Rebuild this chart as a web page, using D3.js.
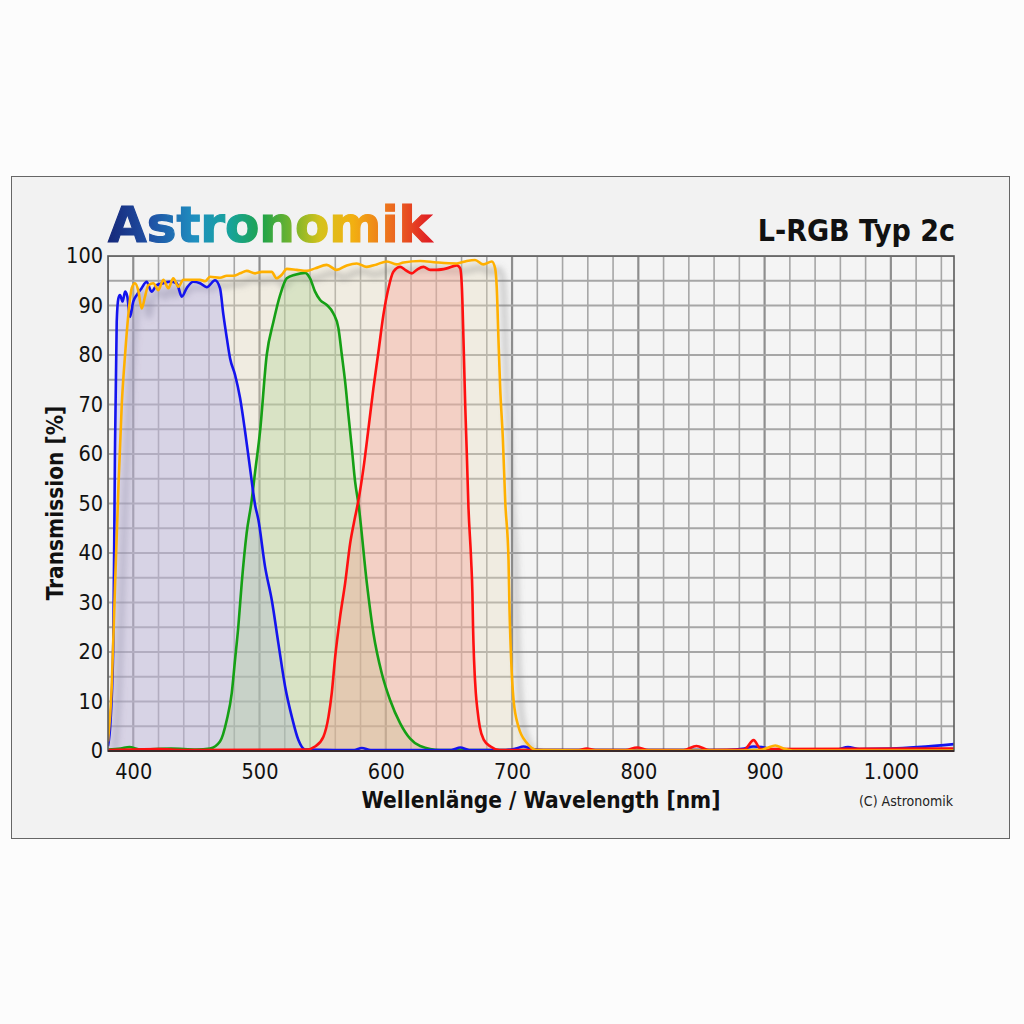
<!DOCTYPE html>
<html><head><meta charset="utf-8">
<script src="https://cdn.jsdelivr.net/npm/d3@7/dist/d3.min.js"></script>
<style>html,body{margin:0;padding:0;background:#fcfcfc;} svg{display:block}</style>
</head><body>
<svg id="c" width="1024" height="1024"></svg>
<script>
// ---------- data ----------
const xTicks = [400, 500, 600, 700, 800, 900, 1000];
const xTickLabels = ["400", "500", "600", "700", "800", "900", "1.000"];
const yTicks = [0, 10, 20, 30, 40, 50, 60, 70, 80, 90, 100];

const lWave  = [380,382.9,385.5,388.2,390.9,393.5,396.1,398.8,401.4,404,406.7,409.3,411.9,415.9,419.9,423.8,427.8,431.7,435.7,439.7,445,452.9,456.9,460.8,468.7,474.1,479.3,484.6,489.9,496.5,501.8,509.6,513.6,517.6,521.6,529.5,537.4,544,553.2,561.1,569.1,577,584.9,592.8,600.8,608.7,614,627.2,640.4,656.2,664.1,670.7,677.3,684,686.6,687.9,689.2,690.6,692.7,694.6,697.2,698,699.3,701.2,705.1,711.8,719.7,760,880,897,902,908.5,915,922,960,1050];
const lTrans = [1.9,12.7,32.9,53,70,80,88.1,93.5,94.5,93,89.4,91.8,94.1,94.5,93.1,95.2,93.5,95.5,93.8,95.2,95.2,95.2,94.9,95.8,95.6,96,96,96.5,97,96.5,96.8,96.8,95.5,96.2,97.4,97.2,97,97.5,98.2,97.2,98.1,98.5,97.8,98.3,98.9,98.3,98.7,99,98.7,98.5,99,99.2,98.3,98.9,97.5,93.5,83.4,73.3,63.2,50.4,38.6,28.5,18.4,10.3,4.9,1.6,0.2,0.1,0.1,0.2,0.6,1.1,0.5,0.1,0.1,0.1];

const blueWave  = [380,382,384.2,385.5,386.9,388.2,389.5,391.6,393.5,395.3,397.4,400,402.7,406.6,410.6,414.5,418.5,423.8,429.1,434.4,438.4,442.3,447.5,452.9,458.2,464.8,468.7,471.4,474.1,476.7,480.6,484.6,488.6,492.5,496.5,499.1,504.4,509.7,514.9,520.3,525.6,530.8,536.1,560,575,581,588,640,652,659,666,695,703,709,716,725,870,884,891,898,905,912,950,958,966,975,1000,1050];
const blueTrans = [1,6,22,60,86.7,91.4,92.1,90.8,92.8,91.8,87.7,90.8,92.1,93.5,94.8,92.8,94.1,94.5,94.8,94.5,91.8,93.5,94.8,94.5,93.7,95.1,93.5,88.1,83.4,79.3,76,71.3,64.5,57.1,49.7,46.7,37.2,30.5,21.8,13,6.9,2.2,0.3,0.2,0.2,0.6,0.2,0.2,0.2,0.7,0.2,0.2,0.5,0.9,0.4,0.2,0.2,0.5,0.9,0.8,0.3,0.1,0.2,0.3,0.8,0.4,0.5,1.4];

const greenWave  = [380,390,397,405,430,450,460.8,468.7,474.1,478,480.6,483.2,485.9,489.8,493.8,496.5,500.4,505.7,511,516.3,521.6,528.2,536.1,540,544,548,553.3,558.5,562.5,565.2,567.8,570.4,573.1,575.7,578.5,585,590.2,596.8,603.4,611.4,619.3,627.2,643,1050];
const greenTrans = [0.3,0.5,0.8,0.3,0.5,0.3,0.5,1.9,6.3,11.7,18.4,25.1,33.9,44,50.6,56.4,64.5,80,86.7,92.1,95.5,96.2,96.6,95.5,92.8,91.1,90.1,88.4,85.4,80,74.6,67.9,61.2,54.4,49.6,33.9,23.8,15.7,10.3,5.6,2.5,1,0.2,0.2];

const redWave  = [380,420,440,537.4,544,550.6,554.6,557.2,559.9,563.8,567.8,571.8,575.7,578.3,582.3,586.3,590.2,594.2,598.1,602.1,606,611.4,615.3,620.6,624.5,629.8,635.1,640.4,648.3,656.2,658.9,660.3,661.5,662.9,664.2,665.4,667.6,668.6,669.1,669.9,671.3,672.6,674.4,677.8,683,690,740,753,759,766,790,799,808,836,846,856,884,891.3,897,1050];
const redTrans = [0.2,0.4,0.2,0.3,0.9,2.9,6.9,11.7,19,27.1,33.9,42,47.3,50.6,57.1,65.2,73.3,80.7,88.1,93.5,96.8,97.8,97.2,96.5,97.2,97.8,97.2,97.2,97.5,98.1,97.5,93.5,83.4,69.9,59.8,49.7,38.6,31.9,25.1,18.4,11.7,8.3,4.9,2.2,0.9,0.2,0.2,0.2,0.5,0.2,0.2,0.7,0.2,0.2,1.0,0.2,0.3,2.2,0.4,0.5];

// ---------- layout ----------
const svg = d3.select("#c");
const X0 = 108, X1 = 954, Y0 = 751, Y1 = 256;
const x = d3.scaleLinear().domain([380, 1050]).range([X0, X1]);
const y = d3.scaleLinear().domain([0, 100]).range([Y0, Y1]);

const defs = svg.append("defs");
defs.append("clipPath").attr("id", "clip").append("rect")
  .attr("x", X0).attr("y", Y1).attr("width", X1 - X0).attr("height", Y0 - Y1);
const f = defs.append("filter").attr("id", "blur").attr("x", "-20%").attr("y", "-20%").attr("width", "140%").attr("height", "140%");
f.append("feGaussianBlur").attr("stdDeviation", 3.2);
const lg = defs.append("linearGradient").attr("id", "logo").attr("gradientUnits", "userSpaceOnUse")
  .attr("x1", 108).attr("x2", 430).attr("y1", 0).attr("y2", 0);
[["0", "#16287a"], ["0.13", "#1f50a4"], ["0.27", "#1f8fc0"], ["0.38", "#17a39a"], ["0.48", "#20a349"],
 ["0.58", "#7db62a"], ["0.66", "#d6c21c"], ["0.76", "#f2b011"], ["0.88", "#ec6d1f"], ["1", "#e01e24"]]
  .forEach(([o, c]) => lg.append("stop").attr("offset", o).attr("stop-color", c));

// frame
svg.append("rect").attr("x", 11.5).attr("y", 176.5).attr("width", 998).attr("height", 662)
  .attr("fill", "#f2f2f2").attr("stroke", "#666").attr("stroke-width", 1);
svg.append("rect").attr("x", X0).attr("y", Y1).attr("width", X1 - X0).attr("height", Y0 - Y1)
  .attr("fill", "#f4f4f4");

const plot = svg.append("g").attr("clip-path", "url(#clip)");

function series(w, t) { return w.map((v, i) => [v, t[i]]); }
const L = series(lWave, lTrans), B = series(blueWave, blueTrans), G = series(greenWave, greenTrans), R = series(redWave, redTrans);
const curve = d3.curveMonotoneX;
const area = d3.area().x(d => x(d[0])).y0(y(0)).y1(d => y(d[1])).curve(curve);
const line = d3.line().x(d => x(d[0])).y(d => y(d[1])).curve(curve);

// grid
const vgrid = d3.range(380, 1051, 20);
plot.selectAll(".vg").data(vgrid).join("line")
  .attr("x1", d => x(d)).attr("x2", d => x(d)).attr("y1", Y1).attr("y2", Y0)
  .attr("stroke", d => d % 100 === 0 ? "#8e8e8e" : "#a6a6a6")
  .attr("stroke-width", d => d % 100 === 0 ? 2.2 : 1.6);
plot.selectAll(".hg").data(d3.range(0, 101, 5)).join("line")
  .attr("x1", X0).attr("x2", X1).attr("y1", d => y(d)).attr("y2", d => y(d))
  .attr("stroke", "#a6a6a6").attr("stroke-width", 1.8);

// fills
plot.append("path").datum(L).attr("d", area).attr("fill", "rgb(232,220,186)").attr("fill-opacity", 0.32);
plot.append("path").datum(L).attr("d", line).attr("fill", "none").attr("stroke", "#777").attr("stroke-width", 5)
  .attr("stroke-opacity", 0.4).attr("transform", "translate(7,8)").attr("filter", "url(#blur)");
plot.append("path").datum(B).attr("d", area).attr("fill", "rgb(160,152,238)").attr("fill-opacity", 0.3);
plot.append("path").datum(G).attr("d", area).attr("fill", "rgb(168,208,140)").attr("fill-opacity", 0.32);
plot.append("path").datum(R).attr("d", area).attr("fill", "rgb(250,150,140)").attr("fill-opacity", 0.32);

// lines
const lw = 2.6;
plot.append("path").datum(G).attr("d", line).attr("fill", "none").attr("stroke", "#15a015").attr("stroke-width", lw);
plot.append("path").datum(B).attr("d", line).attr("fill", "none").attr("stroke", "#1414ee").attr("stroke-width", lw);
plot.append("path").datum(R).attr("d", line).attr("fill", "none").attr("stroke", "#ff1010").attr("stroke-width", lw);
plot.append("path").datum(L).attr("d", line).attr("fill", "none").attr("stroke", "#ffb000").attr("stroke-width", lw);

// plot border
svg.append("rect").attr("x", X0).attr("y", Y1).attr("width", X1 - X0).attr("height", Y0 - Y1)
  .attr("fill", "none").attr("stroke", "#5a5a5a").attr("stroke-width", 1.6);
svg.append("line").attr("x1", X0).attr("x2", X1).attr("y1", Y0).attr("y2", Y0).attr("stroke", "#3a2a2a").attr("stroke-width", 2);

// axes
const font = "'DejaVu Sans Condensed', 'DejaVu Sans', Verdana, sans-serif";
const xa = svg.append("g").attr("transform", `translate(0,${Y0})`)
  .call(d3.axisBottom(x).tickValues(xTicks).tickFormat((d, i) => xTickLabels[i]).tickSize(0).tickPadding(13));
xa.select(".domain").remove();
xa.selectAll("text").attr("font-family", font).attr("font-size", 21.5).attr("fill", "#111");
const ya = svg.append("g").attr("transform", `translate(${X0},0)`)
  .call(d3.axisLeft(y).tickValues(yTicks).tickSize(0).tickPadding(5));
ya.select(".domain").remove();
ya.selectAll("text").attr("font-family", font).attr("font-size", 21.5).attr("fill", "#111");

// titles
svg.append("text").attr("x", 541).attr("y", 808).attr("text-anchor", "middle")
  .attr("font-family", font).attr("font-weight", "bold").attr("font-size", 22.5).attr("fill", "#111")
  .text("Wellenlänge / Wavelength [nm]");
svg.append("text").attr("transform", "translate(63,503) rotate(-90)").attr("text-anchor", "middle")
  .attr("font-family", font).attr("font-weight", "bold").attr("font-size", 22.5).attr("fill", "#111")
  .text("Transmission [%]");
svg.append("text").attr("x", 955).attr("y", 241).attr("text-anchor", "end")
  .attr("font-family", font).attr("font-weight", "bold").attr("font-size", 30).attr("fill", "#111")
  .text("L-RGB Typ 2c");
svg.append("text").attr("x", 953).attr("y", 806).attr("text-anchor", "end")
  .attr("font-family", font).attr("font-size", 14).attr("fill", "#222")
  .text("(C) Astronomik");
svg.append("text").attr("x", 108).attr("y", 242)
  .attr("font-family", "'DejaVu Sans', sans-serif").attr("font-weight", "bold").attr("font-size", 50)
  .attr("fill", "url(#logo)").attr("stroke", "url(#logo)").attr("stroke-width", 1.2)
  .text("Astronomik");
</script>
</body></html>
